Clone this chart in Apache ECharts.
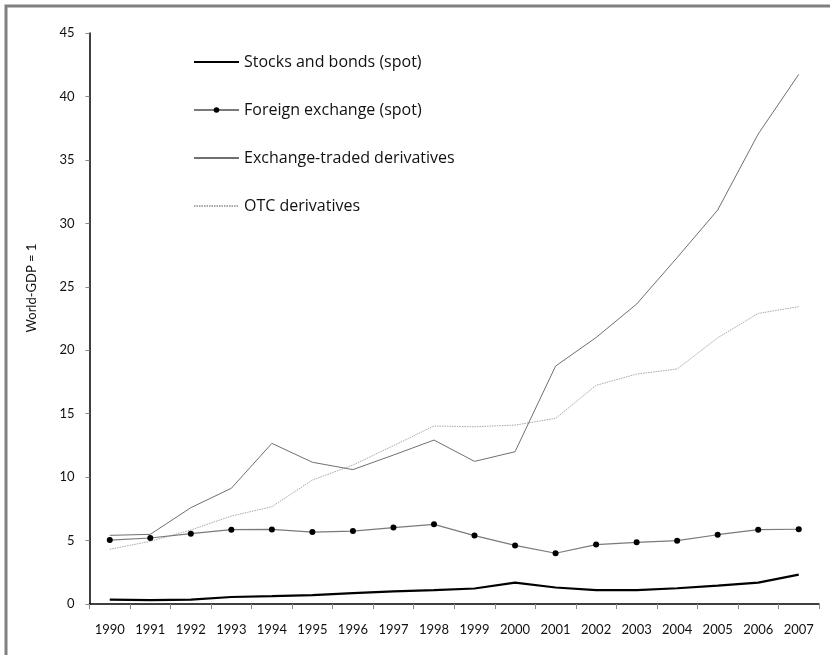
<!DOCTYPE html>
<html>
<head>
<meta charset="utf-8">
<script src="https://cdn.jsdelivr.net/npm/echarts@6/dist/echarts.min.js"></script>
<style>
  html, body { margin: 0; padding: 0; background: #ffffff; }
  #chart { width: 830px; height: 655px; }
</style>
</head>
<body>
<div id="chart"></div>
<script>
// Trading volumes relative to world GDP, 1990-2007
const years = ['1990','1991','1992','1993','1994','1995','1996','1997','1998','1999',
               '2000','2001','2002','2003','2004','2005','2006','2007'];

const stocksBonds = [0.35, 0.3, 0.35, 0.55, 0.62, 0.7, 0.85, 1.0, 1.1, 1.22,
                     1.68, 1.3, 1.1, 1.1, 1.24, 1.45, 1.68, 2.31];

const foreignExchange = [5.04, 5.2, 5.54, 5.86, 5.88, 5.67, 5.75, 6.02, 6.28, 5.39,
                         4.62, 4.0, 4.68, 4.86, 4.99, 5.46, 5.86, 5.89];

const exchangeTraded = [5.41, 5.49, 7.59, 9.12, 12.66, 11.17, 10.59, 11.74, 12.92, 11.24,
                        12.0, 18.75, 21.0, 23.64, 27.3, 31.05, 37.04, 41.74];

const otcDerivatives = [4.31, 4.94, 5.83, 6.93, 7.67, 9.77, 10.95, 12.48, 14.03, 13.97,
                        14.1, 14.63, 17.23, 18.12, 18.52, 20.98, 22.9, 23.43];

const yTicks = { min: 0, max: 45, interval: 5 };
const yTitle = 'World-GDP = 1';

const FONT = 'Lato, "DejaVu Sans", sans-serif';
const LEGEND_FONT = '"Open Sans", "DejaVu Sans", sans-serif';

const chart = echarts.init(document.getElementById('chart'), null, { renderer: 'canvas' });

// Lines without markers get a hidden marker in the legend
const noMarker = { opacity: 0 };

chart.setOption({
  backgroundColor: '#ffffff',
  animation: false,
  textStyle: { fontFamily: FONT },
  grid: { left: 89.5, right: 11, top: 33, bottom: 51, containLabel: false },
  legend: {
    orient: 'vertical',
    left: 193,
    top: 54,
    padding: 0,
    itemWidth: 45,
    itemHeight: 7,
    itemGap: 32,
    selectedMode: false,
    textStyle: { fontFamily: LEGEND_FONT, fontSize: 16, color: '#111111' },
    data: [
      { name: 'Stocks and bonds (spot)', itemStyle: noMarker },
      { name: 'Foreign exchange (spot)' },
      { name: 'Exchange-traded derivatives', itemStyle: noMarker },
      { name: 'OTC derivatives', itemStyle: noMarker }
    ]
  },
  xAxis: {
    type: 'category',
    data: years,
    boundaryGap: true,
    axisLine: { lineStyle: { color: '#000000', width: 1.5 } },
    axisTick: { show: true, inside: false, length: 5, interval: 0,
                lineStyle: { color: '#888888' } },
    axisLabel: { interval: 0, margin: 19, fontSize: 13, color: '#111111', fontFamily: FONT },
    splitLine: { show: false }
  },
  yAxis: {
    type: 'value',
    min: yTicks.min,
    max: yTicks.max,
    interval: yTicks.interval,
    axisLine: { show: true, lineStyle: { color: '#000000', width: 1.5 } },
    axisTick: { show: true, inside: false, length: 4, lineStyle: { color: '#888888' } },
    axisLabel: { margin: 15, fontSize: 13, color: '#111111', fontFamily: FONT },
    splitLine: { show: false }
  },
  graphic: [
    {
      type: 'rect',
      silent: true,
      shape: { x: 6, y: 6, width: 1000, height: 1000 },
      style: { fill: 'none', stroke: '#808080', lineWidth: 3 }
    },
    {
      type: 'text',
      silent: true,
      x: 32,
      y: 288,
      rotation: Math.PI / 2,
      style: {
        text: yTitle,
        fontFamily: FONT,
        fontSize: 13,
        fill: '#111111',
        align: 'center',
        verticalAlign: 'middle'
      }
    }
  ],
  series: [
    {
      name: 'Stocks and bonds (spot)',
      type: 'line',
      data: stocksBonds,
      showSymbol: false,
      symbol: 'none',
      lineStyle: { color: '#000000', width: 2.2 },
      itemStyle: { color: '#000000' },
      z: 5
    },
    {
      name: 'Foreign exchange (spot)',
      type: 'line',
      data: foreignExchange,
      symbol: 'circle',
      symbolSize: 6,
      lineStyle: { color: '#7a7a7a', width: 1.2 },
      itemStyle: { color: '#000000', borderWidth: 0 },
      z: 4
    },
    {
      name: 'Exchange-traded derivatives',
      type: 'line',
      data: exchangeTraded,
      showSymbol: false,
      symbol: 'none',
      lineStyle: { color: '#707070', width: 1 },
      itemStyle: { color: '#707070' },
      z: 3
    },
    {
      name: 'OTC derivatives',
      type: 'line',
      data: otcDerivatives,
      showSymbol: false,
      symbol: 'none',
      lineStyle: { color: '#a8a8a8', width: 1, type: [1.5, 1] },
      itemStyle: { color: '#a8a8a8' },
      z: 2
    }
  ]
});
</script>
</body>
</html>
